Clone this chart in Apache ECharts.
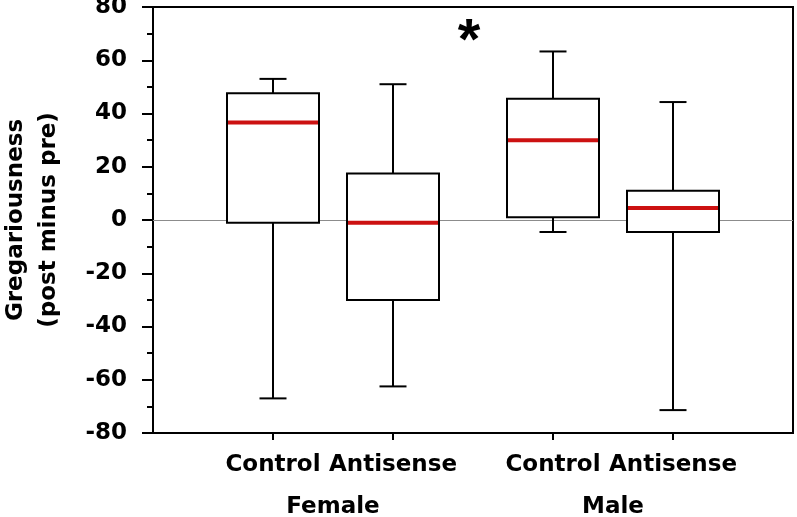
<!DOCTYPE html>
<html>
<head>
<meta charset="utf-8">
<script src="https://cdn.jsdelivr.net/npm/echarts@6/dist/echarts.min.js"></script>
<style>
html,body{margin:0;padding:0;background:#fff;}
#chart{width:797px;height:517px;}
</style>
</head>
<body>
<div id="chart"></div>
<script>
// ---- data ----
const groupLabels = ['Control', 'Antisense', 'Control', 'Antisense'];
const groupPositions = [3, 6, 10, 13];
const sexLabels = ['Female', 'Male'];
const sexPositions = [4.5, 11.5];
// [min, Q1, median, Q3, max]
const mins    = [-67, -62.5, -4.5, -71.4];
const q1s     = [-1, -30, 1, -4.5];
const medians = [36.6, -1, 30, 4.5];
const q3s     = [47.6, 17.5, 45.5, 11];
const maxs    = [53, 51, 63.3, 44.3];
const yTicks = [-80, -60, -40, -20, 0, 20, 40, 60, 80];
const starPos = [7.9, 66.3];

const boxData = groupPositions.map((x, i) => [x, mins[i], q1s[i], medians[i], q3s[i], maxs[i]]);

const BOX_W = 2.3;   // in x units
const CAP_W = 0.675; // in x units

function renderBox(params, api) {
  const x = api.value(0);
  const mn = api.value(1), q1 = api.value(2), md = api.value(3), q3 = api.value(4), mx = api.value(5);
  const bw = api.size([BOX_W, 0])[0];
  const cw = api.size([CAP_W, 0])[0];
  const pMin = api.coord([x, mn]), pQ1 = api.coord([x, q1]), pMd = api.coord([x, md]),
        pQ3 = api.coord([x, q3]), pMax = api.coord([x, mx]);
  const cx = pMd[0];
  const black = {stroke: '#000', lineWidth: 2, fill: null};
  return {
    type: 'group',
    children: [
      {type: 'line', shape: {x1: cx, y1: pQ3[1], x2: cx, y2: pMax[1]}, style: black},
      {type: 'line', shape: {x1: cx - cw / 2, y1: pMax[1], x2: cx + cw / 2, y2: pMax[1]}, style: black},
      {type: 'line', shape: {x1: cx, y1: pQ1[1], x2: cx, y2: pMin[1]}, style: black},
      {type: 'line', shape: {x1: cx - cw / 2, y1: pMin[1], x2: cx + cw / 2, y2: pMin[1]}, style: black},
      {type: 'rect', shape: {x: cx - bw / 2, y: pQ3[1], width: bw, height: pQ1[1] - pQ3[1]},
        style: {fill: '#fff', stroke: '#000', lineWidth: 2}},
      {type: 'line', shape: {x1: cx - bw / 2 + 1, y1: pMd[1], x2: cx + bw / 2 - 1, y2: pMd[1]},
        style: {stroke: '#cc1111', lineWidth: 4}}
    ]
  };
}

const chart = echarts.init(document.getElementById('chart'), null, {renderer: 'canvas'});
const FONT = 'DejaVu Sans';
chart.setOption({
  animation: false,
  backgroundColor: '#fff',
  grid: {left: 153, top: 7, right: 4, bottom: 84, containLabel: false, outerBoundsMode: 'none',
    show: true, borderColor: '#000', borderWidth: 2, backgroundColor: 'transparent'},
  xAxis: [
    {
      type: 'value', min: 0, max: 16, position: 'bottom',
      splitLine: {show: false},
      axisLine: {show: true, onZero: false, lineStyle: {color: '#000', width: 2}},
      axisTick: {show: true, customValues: groupPositions, length: 7, lineStyle: {color: '#000', width: 2}},
      axisLabel: {
        show: true, customValues: groupPositions, margin: 21,
        formatter: v => { const i = groupPositions.indexOf(v); return i >= 0 ? groupLabels[i] : ''; },
        color: '#000', fontFamily: FONT, fontWeight: 'bold', fontSize: 23
      }
    },
    {
      type: 'value', min: 0, max: 16, position: 'bottom', offset: 42,
      splitLine: {show: false},
      axisLine: {show: false},
      axisTick: {show: false, customValues: sexPositions},
      axisLabel: {
        show: true, customValues: sexPositions, margin: 21,
        formatter: v => { const i = sexPositions.indexOf(v); return i >= 0 ? sexLabels[i] : ''; },
        color: '#000', fontFamily: FONT, fontWeight: 'bold', fontSize: 23
      }
    }
  ],
  yAxis: {
    type: 'value', min: yTicks[0], max: yTicks[yTicks.length - 1], interval: 20,
    name: 'Gregariousness\n(post minus pre)',
    nameLocation: 'middle', nameRotate: 90, nameGap: 87,
    nameTextStyle: {color: '#000', fontFamily: FONT, fontWeight: 'bold', fontSize: 23, lineHeight: 33},
    splitLine: {show: false},
    axisLine: {show: true, lineStyle: {color: '#000', width: 2}},
    axisTick: {show: true, length: 11, lineStyle: {color: '#000', width: 2}},
    minorTick: {show: true, splitNumber: 2, length: 6, lineStyle: {color: '#000', width: 2}},
    axisLabel: {color: '#000', fontFamily: FONT, fontSize: 23, fontWeight: 'bold', margin: 26}
  },
  series: [
    {
      type: 'scatter', z: 1,
      data: [starPos],
      symbolSize: 1, itemStyle: {color: 'rgba(0,0,0,0)', opacity: 1},
      label: {show: true, position: 'inside', formatter: '*', color: '#000', opacity: 1,
        textBorderWidth: 0, fontFamily: 'Liberation Sans', fontWeight: 'bold', fontSize: 58},
      markLine: {
        silent: true, symbol: 'none', label: {show: false},
        lineStyle: {color: '#8c8c8c', width: 1, type: 'solid'},
        data: [{yAxis: 0}]
      }
    },
    {
      type: 'custom', z: 5,
      renderItem: renderBox,
      encode: {x: 0, y: [1, 2, 3, 4, 5]},
      data: boxData
    }
  ]
});
</script>
</body>
</html>
